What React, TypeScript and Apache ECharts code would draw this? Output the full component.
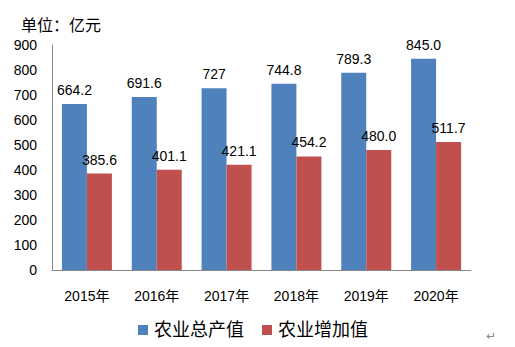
import React, { useEffect, useRef } from "react";
import * as echarts from "echarts";

const categories = ["2015年", "2016年", "2017年", "2018年", "2019年", "2020年"];
const totalOutput = [664.2, 691.6, 727, 744.8, 789.3, 845.0];
const addedValue = [385.6, 401.1, 421.1, 454.2, 480.0, 511.7];
const totalLabels = ["664.2", "691.6", "727", "744.8", "789.3", "845.0"];
const addedLabels = ["385.6", "401.1", "421.1", "454.2", "480.0", "511.7"];
const seriesNames = ["农业总产值", "农业增加值"];

const numFont = "'Liberation Sans', Arial, sans-serif";
const cjkFont = "'Liberation Sans', 'Noto Sans CJK SC', sans-serif";

export default function App() {
  const ref = useRef<HTMLDivElement>(null);
  useEffect(() => {
    if (!ref.current) return;
    const chart = echarts.init(ref.current, undefined, { renderer: "svg" });
    chart.setOption({
      animation: false,
      backgroundColor: "#ffffff",
      grid: { left: 52, right: 44, top: 45, bottom: 77, containLabel: false },
      title: {
        text: "单位：亿元",
        left: 16,
        top: 12,
        textStyle: { fontSize: 16, fontWeight: "normal", color: "#000", fontFamily: cjkFont },
      },
      legend: {
        left: 133,
        top: 316,
        itemWidth: 10,
        itemHeight: 10,
        itemGap: 18,
        icon: "rect",
        textStyle: { fontSize: 18, color: "#000", fontFamily: cjkFont, padding: [0, 0, 0, 1] },
        data: seriesNames,
      },
      xAxis: {
        type: "category",
        data: categories,
        axisLine: { show: true, lineStyle: { color: "#898989", width: 1 } },
        axisTick: { show: false },
        axisLabel: { fontSize: 14, color: "#000", fontFamily: cjkFont, margin: 19 },
      },
      yAxis: {
        type: "value",
        min: 0,
        max: 900,
        interval: 100,
        splitLine: { show: false },
        axisLine: { show: true, lineStyle: { color: "#898989", width: 1 } },
        axisTick: { show: false },
        axisLabel: { fontSize: 14, color: "#000", fontFamily: numFont, margin: 15 },
      },
      series: [
        {
          name: seriesNames[0],
          type: "bar",
          data: totalOutput,
          barWidth: 25,
          barGap: "0%",
          itemStyle: { color: "#4f81bd" },
          label: {
            show: true,
            position: "top",
            distance: 7,
            fontSize: 14,
            color: "#000",
            fontFamily: numFont,
            formatter: (p: any) => totalLabels[p.dataIndex],
          },
        },
        {
          name: seriesNames[1],
          type: "bar",
          data: addedValue,
          barWidth: 25,
          barGap: "0%",
          itemStyle: { color: "#c0504d" },
          label: {
            show: true,
            position: "top",
            distance: 7,
            fontSize: 14,
            color: "#000",
            fontFamily: numFont,
            formatter: (p: any) => addedLabels[p.dataIndex],
          },
        },
      ],
      graphic: [
        {
          type: "text",
          left: 486,
          top: 330,
          style: { text: "↵", fontSize: 12, fill: "#888", fontFamily: "'DejaVu Sans', sans-serif" },
        },
      ],
    });
    return () => chart.dispose();
  }, []);
  return <div ref={ref} style={{ width: 515, height: 347, position: "absolute", left: 0, top: 0 }} />;
}
